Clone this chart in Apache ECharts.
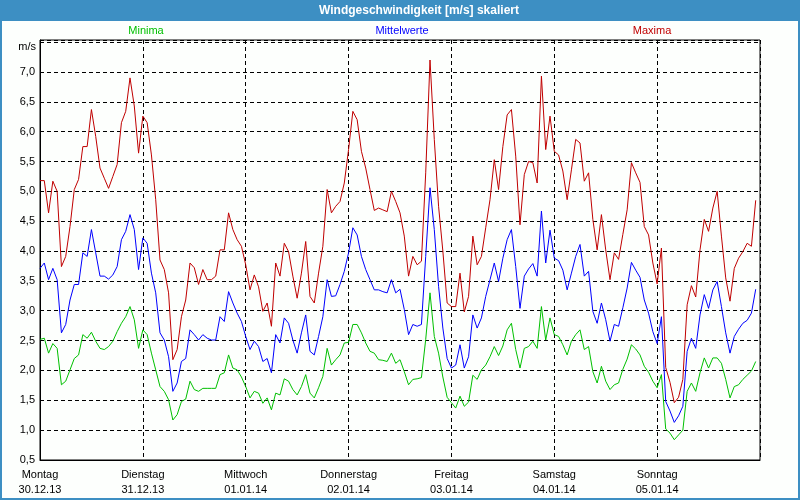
<!DOCTYPE html>
<html>
<head>
<meta charset="utf-8">
<script src="https://cdn.jsdelivr.net/npm/echarts@6/dist/echarts.min.js"></script>
<style>html,body{margin:0;padding:0;background:#fff;}#c{width:800px;height:500px;}</style>
</head>
<body>
<div id="c"></div>
<script>
const dayNames = ['Montag','Dienstag','Mittwoch','Donnerstag','Freitag','Samstag','Sonntag'];
const dayDates = ['30.12.13','31.12.13','01.01.14','02.01.14','03.01.14','04.01.14','05.01.14'];
const yTicks = [0.5,1.0,1.5,2.0,2.5,3.0,3.5,4.0,4.5,5.0,5.5,6.0,6.5,7.0];

const maxima = [
5.18,5.18,4.64,5.17,5.0,3.74,3.91,4.41,5.03,5.2,
5.75,5.75,6.37,5.92,5.39,5.22,5.05,5.25,5.45,6.15,
6.34,6.9,6.43,5.64,6.26,6.15,5.61,4.86,3.85,3.69,
3.30,2.18,2.35,2.9,3.18,3.8,3.72,3.44,3.69,3.52,
3.52,3.58,4.02,4.02,4.64,4.36,4.19,4.08,3.77,
3.35,3.6,3.4,2.99,3.13,2.74,3.8,3.58,4.13,3.99,
3.58,3.21,3.63,4.16,3.24,3.13,3.63,4.08,5.03,4.64,
4.75,4.83,5.14,5.7,6.34,6.2,5.67,5.39,5.03,4.68,
4.72,4.69,4.66,5.0,4.83,4.64,4.25,3.58,3.91,3.77,
3.83,5.31,7.2,5.87,4.75,4.0,3.13,
3.07,3.07,3.63,2.98,3.24,4.25,3.77,3.91,4.39,4.86,
5.53,5.03,5.75,6.28,6.37,5.59,4.44,5.28,5.5,5.48,
5.14,6.93,5.7,6.26,5.67,5.61,5.34,4.86,5.36,5.87,
5.81,5.17,5.31,4.53,4.02,4.61,4.02,3.52,3.97,3.86,
4.28,4.69,5.48,5.31,5.15,4.41,4.27,3.8,3.45,4.05,
2.05,1.8,1.46,1.55,1.85,3.1,3.42,3.23,4.02,4.53,
4.33,4.72,5.0,4.25,3.55,3.16,3.71,3.88,3.99,4.13,
4.08,4.85
];

const mittel = [
3.71,3.8,3.52,3.71,3.52,2.63,2.77,3.18,3.44,3.44,
3.97,3.91,4.36,3.97,3.58,3.58,3.53,3.6,3.74,4.19,
4.33,4.61,4.36,3.69,4.22,4.13,3.63,3.3,2.63,2.51,
2.23,1.65,1.79,2.15,2.2,2.68,2.6,2.51,2.6,2.54,
2.51,2.51,2.9,2.82,3.32,3.13,2.96,2.82,2.57,
2.35,2.49,2.4,2.15,2.2,1.96,2.6,2.46,2.88,2.79,
2.51,2.29,2.63,2.93,2.32,2.26,2.57,2.9,3.52,3.24,
3.25,3.44,3.66,3.97,4.39,4.27,3.91,3.69,3.52,3.35,
3.35,3.32,3.3,3.52,3.3,3.36,3.02,2.6,2.77,2.74,
2.77,3.91,5.06,4.36,3.41,2.71,2.2,
2.04,2.09,2.43,2.04,2.23,2.93,2.71,2.88,3.24,3.52,
3.8,3.49,3.88,4.19,4.36,3.74,3.04,3.58,3.7,3.79,
3.58,4.67,3.8,4.35,3.88,3.84,3.68,3.35,3.63,3.91,
4.11,3.58,3.66,2.99,2.79,3.13,2.85,2.49,2.77,2.74,
3.05,3.38,3.81,3.68,3.56,3.18,2.96,2.65,2.45,2.9,
1.48,1.32,1.13,1.24,1.4,2.32,2.54,2.37,2.93,3.27,
3.04,3.35,3.49,3.07,2.63,2.29,2.57,2.69,2.79,2.84,
2.96,3.36
];

const minima = [
2.52,2.54,2.29,2.45,2.37,1.76,1.82,2.01,2.2,2.26,
2.6,2.54,2.64,2.49,2.37,2.35,2.4,2.49,2.65,2.79,
2.9,3.07,2.85,2.37,2.68,2.6,2.29,2.01,1.73,1.65,
1.51,1.17,1.26,1.48,1.52,1.82,1.68,1.65,1.7,1.7,
1.7,1.7,1.93,1.96,2.26,2.04,2.01,1.89,1.73,
1.54,1.65,1.62,1.45,1.54,1.34,1.62,1.59,1.86,1.82,
1.68,1.59,1.73,1.93,1.62,1.54,1.71,1.9,2.37,2.09,
2.18,2.26,2.46,2.47,2.77,2.77,2.63,2.46,2.32,2.29,
2.18,2.17,2.15,2.29,2.12,2.18,1.98,1.76,1.85,1.86,
1.88,2.52,3.3,2.57,2.29,1.89,1.55,
1.46,1.37,1.57,1.4,1.47,1.92,1.85,2.01,2.09,2.23,
2.4,2.25,2.41,2.68,2.79,2.35,2.04,2.37,2.4,2.49,
2.37,3.07,2.51,2.88,2.6,2.57,2.43,2.26,2.49,2.6,
2.68,2.35,2.4,1.98,1.79,2.07,1.82,1.68,1.76,1.79,
2.02,2.19,2.43,2.36,2.26,2.07,1.97,1.82,1.71,1.93,
1.02,0.95,0.84,0.92,1.0,1.65,1.79,1.65,1.96,2.21,
2.04,2.21,2.21,2.12,1.85,1.54,1.73,1.76,1.85,1.92,
1.99,2.15
];

function pairs(arr){ return arr.map((v,i)=>[i,v]); }

const FONT = 'Liberation Sans';
const chart = echarts.init(document.getElementById('c'), null, {renderer:'canvas'});
const option = {
  backgroundColor: '#fdfffd',
  animation: false,
  textStyle: {fontFamily: FONT},
  grid: {left:40, top:40, right:40, bottom:40, show:true, borderColor:'#000', borderWidth:1, backgroundColor:'#fdfffd'},
  xAxis: {
    type:'value', min:0, max:168, interval:24,
    axisLine:{show:true, onZero:false, lineStyle:{color:'#000', width:1}},
    axisTick:{show:false},
    splitLine:{show:true, lineStyle:{color:'#000', type:[4,3], width:1}},
    axisLabel:{
      showMaxLabel:false, margin:7, color:'#000', fontSize:11, fontFamily:FONT, lineHeight:15,
      formatter: v => { const i = Math.round(v/24); return i < dayNames.length ? dayNames[i] + '\n' + dayDates[i] : ''; }
    }
  },
  yAxis: {
    type:'value', min:0.5, max:7.535, interval:0.5,
    axisLine:{show:true, lineStyle:{color:'#000', width:1}},
    axisTick:{show:false},
    splitLine:{show:true, lineStyle:{color:'#000', type:[4,3], width:1}},
    axisLabel:{
      showMaxLabel:false, margin:5, color:'#000', fontSize:11, fontFamily:FONT,
      formatter: v => { const t = yTicks.find(x => Math.abs(x - v) < 1e-6); return t === undefined ? '' : t.toFixed(1).replace('.', ','); }
    }
  },
  graphic: [
    {type:'rect', shape:{x:0, y:0, width:800, height:21}, style:{fill:'#3d8fc3'}, z:100},
    {type:'rect', shape:{x:1, y:1, width:798, height:498}, style:{fill:null, stroke:'#3d8fc3', lineWidth:2}, z:100},
    {type:'text', x:419, y:11, style:{text:'Windgeschwindigkeit [m/s] skaliert', fill:'#fff', font:'bold 12px "Liberation Sans"', align:'center', verticalAlign:'middle'}, z:101},
    {type:'text', x:146, y:31, style:{text:'Minima', fill:'#00c000', font:'11px "Liberation Sans"', align:'center', verticalAlign:'middle'}, z:101},
    {type:'text', x:402, y:31, style:{text:'Mittelwerte', fill:'#0000ff', font:'11px "Liberation Sans"', align:'center', verticalAlign:'middle'}, z:101},
    {type:'text', x:652, y:31, style:{text:'Maxima', fill:'#c00000', font:'11px "Liberation Sans"', align:'center', verticalAlign:'middle'}, z:101},
    {type:'text', x:36, y:47, style:{text:'m/s', fill:'#000', font:'11px "Liberation Sans"', align:'right', verticalAlign:'middle'}, z:101}
  ],
  series: [
    {name:'Minima', type:'line', data:pairs(minima), showSymbol:false, symbol:'none', lineStyle:{color:'#00c000', width:1}, itemStyle:{color:'#00c000'}},
    {name:'Mittelwerte', type:'line', data:pairs(mittel), showSymbol:false, symbol:'none', lineStyle:{color:'#0000ff', width:1}, itemStyle:{color:'#0000ff'}},
    {name:'Maxima', type:'line', data:pairs(maxima), showSymbol:false, symbol:'none', lineStyle:{color:'#c00000', width:1}, itemStyle:{color:'#c00000'}}
  ]
};
chart.setOption(option);
</script>
</body>
</html>
